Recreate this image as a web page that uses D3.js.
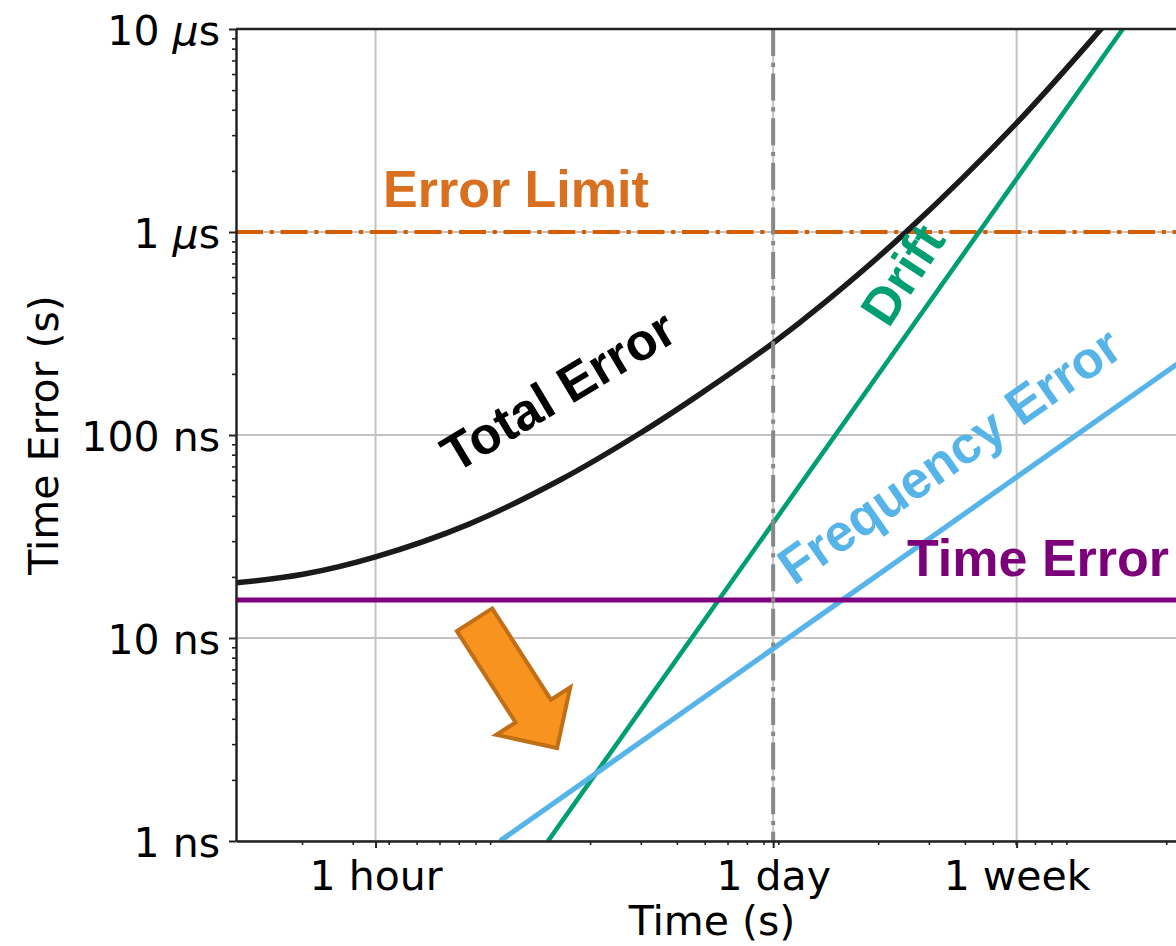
<!DOCTYPE html>
<html>
<head>
<meta charset="utf-8">
<script src="https://cdn.jsdelivr.net/npm/d3@7"></script>
<style>
  body { margin: 0; background: #fff; }
  svg { display: block; }
</style>
</head>
<body>
<svg id="chart" width="1176" height="946"></svg>
<script>
// Axis extents: time in seconds, time error in seconds (log–log)
const timeDomain = [1180, 2.38e6];
const errorDomain = [1e-9, 1e-5];

// Major ticks and their labels
const xTickValues = [3600, 86400, 604800];
const xTickLabels = ["1 hour", "1 day", "1 week"];
const yTickValues = [1e-9, 1e-8, 1e-7, 1e-6, 1e-5];
const yTickLabels = ["1 ns", "10 ns", "100 ns", "1 μs", "10 μs"];

// Error contributions as [time (s), time error (s)]
const timeErrorSeries = [[1180, 1.54e-8], [2.38e6, 1.54e-8]];
const frequencyErrorSeries = [[9740, 1e-9], [2.38e6, 2.44e-7]];
const driftSeries = [[14290, 1e-9], [1.413e6, 1e-5]];
const totalErrorSeries = [
  [1180, 1.87e-8], [2016, 2.06e-8], [3600, 2.51e-8], [7600, 3.64e-8],
  [15730, 6.0e-8], [29810, 1.02e-7], [48150, 1.59e-7], [86400, 2.84e-7],
  [128700, 4.42e-7], [252000, 1.01e-6], [604800, 3.44e-6],
  [1.18e6, 9.89e-6], [1.3e6, 1.16e-5]
];

// Reference levels
const errorLimit = 1e-6;   // 1 µs budget
const dayMarker = 86400;   // 1 day

// Series labels, anchored in data coordinates
const labels = [
  { text: "Error Limit", t: 3821, v: 1.33e-6, angle: 0, anchor: "start", color: "#d9701f" },
  { text: "Time Error", t: 251900, v: 2.02e-8, angle: 0, anchor: "start", color: "#7c007a" },
  { text: "Total Error", t: 15475, v: 1.66e-7, angle: -31, anchor: "middle", color: "#000000", centred: true },
  { text: "Drift", t: 242000, v: 6.2e-7, angle: -57, anchor: "middle", color: "#009e73", centred: true },
  { text: "Frequency Error", t: 352000, v: 7.97e-8, angle: -35, anchor: "middle", color: "#56b4e9", centred: true }
];

// Block arrow pointing at the drift / frequency-error crossover
const arrowTail = [7943, 1.23e-8];
const arrowTip = [15360, 2.87e-9];

const svg = d3.select("#chart");
const plot = { left: 236, right: 1188, top: 29, bottom: 841 };

const x = d3.scaleLog().domain(timeDomain).range([plot.left, plot.right]);
const y = d3.scaleLog().domain(errorDomain).range([plot.bottom, plot.top]);

const axisFont = "'DejaVu Sans', sans-serif";
const labelFont = "'Liberation Sans', Arial, sans-serif";

svg.append("defs").append("clipPath").attr("id", "plot-clip")
  .append("rect")
  .attr("x", plot.left).attr("y", plot.top)
  .attr("width", plot.right - plot.left).attr("height", plot.bottom - plot.top);

// Grid
const grid = svg.append("g").attr("stroke", "#c2c2c2").attr("stroke-width", 2);
grid.selectAll(".gx").data(xTickValues).join("line")
  .attr("x1", d => x(d)).attr("x2", d => x(d))
  .attr("y1", plot.top).attr("y2", plot.bottom);
grid.selectAll(".gy").data(yTickValues).join("line")
  .attr("x1", plot.left).attr("x2", plot.right)
  .attr("y1", d => y(d)).attr("y2", d => y(d));

const lines = svg.append("g").attr("clip-path", "url(#plot-clip)").attr("fill", "none");

const line = d3.line().x(d => x(d[0])).y(d => y(d[1]));
const smooth = d3.line().x(d => x(d[0])).y(d => y(d[1])).curve(d3.curveCatmullRom.alpha(0.5));

// Error limit (dash-dot)
lines.append("line")
  .attr("x1", plot.left).attr("x2", plot.right)
  .attr("y1", y(errorLimit)).attr("y2", y(errorLimit))
  .attr("stroke", "#d55e00").attr("stroke-width", 4.2)
  .attr("stroke-dasharray", "27,6.7,4.2,6.7");

lines.append("path").datum(totalErrorSeries).attr("d", smooth)
  .attr("stroke", "#1a1a1a").attr("stroke-width", 5.5);
lines.append("path").datum(driftSeries).attr("d", line)
  .attr("stroke", "#009e73").attr("stroke-width", 4.6);
lines.append("path").datum(frequencyErrorSeries).attr("d", line)
  .attr("stroke", "#56b4e9").attr("stroke-width", 5.2);
lines.append("path").datum(timeErrorSeries).attr("d", line)
  .attr("stroke", "#800080").attr("stroke-width", 5);

// 1-day marker
lines.append("line")
  .attr("x1", x(dayMarker)).attr("x2", x(dayMarker))
  .attr("y1", plot.top).attr("y2", plot.bottom)
  .attr("stroke", "#888888").attr("stroke-width", 4)
  .attr("stroke-dasharray", "27,6.7,4.2,6.7");

// Axes
function minorTicks(scale) {
  return scale.ticks().filter(d => {
    const lead = Math.round(d / Math.pow(10, Math.floor(Math.log10(d) + 1e-9)));
    return lead !== 1;
  });
}

const xAxis = svg.append("g").attr("transform", `translate(0,${plot.bottom})`)
  .call(d3.axisBottom(x).tickValues(xTickValues)
    .tickFormat((d, i) => xTickLabels[i]).tickSizeInner(7).tickSizeOuter(0).tickPadding(13));
svg.append("g").attr("transform", `translate(0,${plot.bottom})`)
  .call(d3.axisBottom(x).tickValues(minorTicks(x)).tickFormat("").tickSizeInner(4).tickSizeOuter(0))
  .call(g => g.select(".domain").remove())
  .selectAll("line").attr("stroke-width", 1.6).attr("stroke", "#222");

const yAxis = svg.append("g").attr("transform", `translate(${plot.left},0)`)
  .call(d3.axisLeft(y).tickValues(yTickValues)
    .tickFormat((d, i) => yTickLabels[i]).tickSizeInner(7).tickSizeOuter(0).tickPadding(9));
svg.append("g").attr("transform", `translate(${plot.left},0)`)
  .call(d3.axisLeft(y).tickValues(minorTicks(y)).tickFormat("").tickSizeInner(4).tickSizeOuter(0))
  .call(g => g.select(".domain").remove())
  .selectAll("line").attr("stroke-width", 1.6).attr("stroke", "#222");

[xAxis, yAxis].forEach(g => {
  g.select(".domain").attr("stroke", "#222").attr("stroke-width", 2.5);
  g.selectAll(".tick line").attr("stroke", "#222").attr("stroke-width", 2);
  g.selectAll(".tick text").attr("font-family", axisFont).attr("font-size", 41).attr("fill", "#000");
});
yAxis.selectAll(".tick text").attr("dy", "0.37em").each(function (d, i) {
  const t = d3.select(this);
  const parts = yTickLabels[i].split("μ");
  t.text(null);
  t.append("tspan").text(parts[0]);
  if (parts.length > 1) {
    t.append("tspan").attr("font-style", "italic").text("μ");
    t.append("tspan").text(parts[1]);
  }
});

// Top spine
svg.append("line")
  .attr("x1", plot.left).attr("x2", plot.right)
  .attr("y1", plot.top).attr("y2", plot.top)
  .attr("stroke", "#222").attr("stroke-width", 2.5);

// Axis titles
svg.append("text")
  .attr("x", (plot.left + plot.right) / 2).attr("y", 935)
  .attr("text-anchor", "middle")
  .attr("font-family", axisFont).attr("font-size", 41)
  .text("Time (s)");
svg.append("text")
  .attr("transform", `translate(58,${(plot.top + plot.bottom) / 2}) rotate(-90)`)
  .attr("text-anchor", "middle")
  .attr("font-family", axisFont).attr("font-size", 41)
  .text("Time Error (s)");

// Arrow
(function () {
  const p0 = [x(arrowTail[0]), y(arrowTail[1])];
  const p1 = [x(arrowTip[0]), y(arrowTip[1])];
  const dx = p1[0] - p0[0], dy = p1[1] - p0[1];
  const len = Math.hypot(dx, dy);
  const u = [dx / len, dy / len];
  const n = [-u[1], u[0]];
  const shaft = 42, head = 88, headLen = 44;
  const b = [p1[0] - u[0] * headLen, p1[1] - u[1] * headLen];
  const pt = (p, k) => [p[0] + n[0] * k, p[1] + n[1] * k];
  const poly = [
    pt(p0, shaft / 2), pt(b, shaft / 2), pt(b, head / 2), p1,
    pt(b, -head / 2), pt(b, -shaft / 2), pt(p0, -shaft / 2)
  ];
  svg.append("polygon")
    .attr("points", poly.map(p => p.join(",")).join(" "))
    .attr("fill", "#f7931e").attr("stroke", "#c06f17")
    .attr("stroke-width", 4).attr("stroke-linejoin", "miter");
})();

// Series labels
svg.append("g").selectAll("text").data(labels).join("text")
  .attr("transform", d => `translate(${x(d.t)},${y(d.v)}) rotate(${d.angle})`)
  .attr("text-anchor", d => d.anchor)
  .attr("dy", d => d.centred ? "0.36em" : null)
  .attr("font-family", labelFont).attr("font-weight", "bold").attr("font-size", 52)
  .attr("fill", d => d.color)
  .text(d => d.text);
</script>
</body>
</html>
